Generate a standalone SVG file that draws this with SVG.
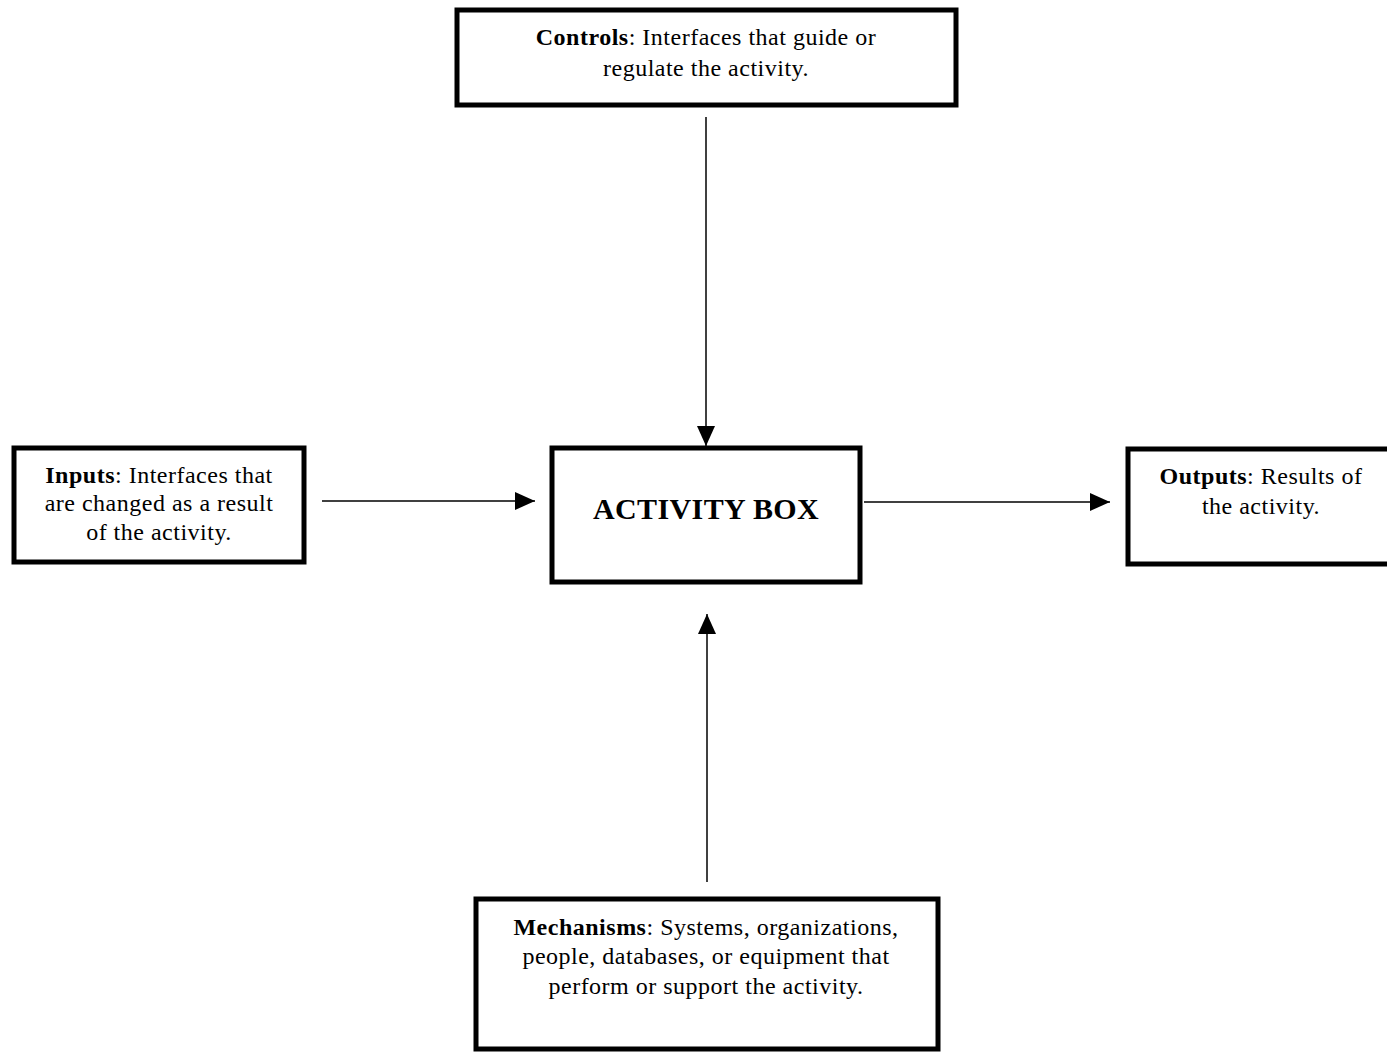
<svg xmlns="http://www.w3.org/2000/svg" width="1387" height="1053" viewBox="0 0 1387 1053">
  <style>
    .box { fill: #fff; stroke: #000; stroke-width: 5; }
    .txt { font-family: "Liberation Serif", "Times New Roman", serif; font-size: 24px; letter-spacing: 0.5px; fill: #000; text-anchor: middle; }
    .b { font-weight: bold; }
    .title { font-family: "Liberation Serif", "Times New Roman", serif; font-size: 30px; letter-spacing: 0.4px; font-weight: bold; fill: #000; text-anchor: middle; }
    .conn { stroke: #000; stroke-width: 1.5; fill: none; marker-end: url(#arrow); }
  </style>
  <defs>
    <marker id="arrow" markerUnits="userSpaceOnUse" markerWidth="20" markerHeight="20" viewBox="0 0 20 20" refX="20" refY="10" orient="auto">
      <path d="M0,1 L20,10 L0,19 Z" fill="#000"/>
    </marker>
  </defs>
  <rect width="1387" height="1053" fill="#fff"/>

  <g id="connectors">
    <line class="conn" x1="706" y1="117" x2="706" y2="446"/>
    <line class="conn" x1="322" y1="501" x2="535" y2="501"/>
    <line class="conn" x1="864" y1="502" x2="1110" y2="502"/>
    <line class="conn" x1="707" y1="882" x2="707" y2="614"/>
  </g>

  <g id="controls">
    <rect class="box" x="457" y="10" width="499" height="95"/>
    <text class="txt" x="706" y="45"><tspan class="b">Controls</tspan>: Interfaces that guide or</text>
    <text class="txt" x="706" y="76">regulate the activity.</text>
  </g>

  <g id="inputs">
    <rect class="box" x="14" y="448" width="290" height="114"/>
    <text class="txt" x="159" y="483"><tspan class="b">Inputs</tspan>: Interfaces that</text>
    <text class="txt" x="159" y="511">are changed as a result</text>
    <text class="txt" x="159" y="540">of the activity.</text>
  </g>

  <g id="activity">
    <rect class="box" x="552" y="448" width="308" height="134"/>
    <text class="title" x="706" y="519">ACTIVITY BOX</text>
  </g>

  <g id="outputs">
    <rect class="box" x="1128" y="449" width="270" height="115"/>
    <text class="txt" x="1261" y="484"><tspan class="b">Outputs</tspan>: Results of</text>
    <text class="txt" x="1261" y="514">the activity.</text>
  </g>

  <g id="mechanisms">
    <rect class="box" x="476" y="899" width="462" height="150"/>
    <text class="txt" x="706" y="935"><tspan class="b">Mechanisms</tspan>: Systems, organizations,</text>
    <text class="txt" x="706" y="964">people, databases, or equipment that</text>
    <text class="txt" x="706" y="994">perform or support the activity.</text>
  </g>
</svg>
